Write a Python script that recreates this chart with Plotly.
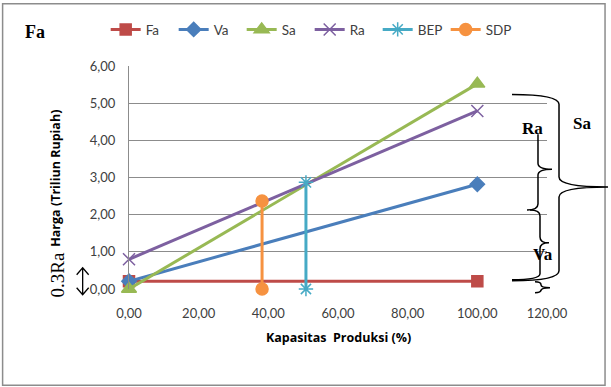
import plotly.graph_objects as go

# ---- data ----
fa_x = [0, 100]
fa_y = [0.21, 0.21]
va_x = [0, 100]
va_y = [0.21, 2.82]
sa_x = [0, 100]
sa_y = [0.0, 5.52]
ra_x = [0, 100]
ra_y = [0.80, 4.79]
bep_x = [50.8, 50.8]
bep_y = [0.0, 2.87]
sdp_x = [38.2, 38.2]
sdp_y = [0.0, 2.37]

x_ticks = [0, 20, 40, 60, 80, 100, 120]
y_ticks = [0, 1, 2, 3, 4, 5, 6]

W, H = 611, 387
L, R, T, B = 129.3, 547.0, 65.5, 289.3


def px(x):
    return (x - L) / (R - L)


def py(y):
    return (B - y) / (B - T)


fig = go.Figure()
series = [
    ("Fa", fa_x, fa_y, "#BE4B48", "square", 11),
    ("Va", va_x, va_y, "#4A7EBB", "diamond", 11),
    ("Sa", sa_x, sa_y, "#98B954", "triangle-up", 13),
    ("Ra", ra_x, ra_y, "#7D60A0", "x-thin-open", 12),
    ("BEP", bep_x, bep_y, "#46AAC5", "asterisk-open", 12),
    ("SDP", sdp_x, sdp_y, "#F69240", "circle", 12),
]
for name, xs, ys, col, sym, sz in series:
    fig.add_trace(go.Scatter(
        x=xs, y=ys, name=name, mode="lines+markers", cliponaxis=False,
        line=dict(color=col, width=3),
        marker=dict(symbol=sym, size=sz, color=col,
                    line=dict(color=col, width=1.5)),
    ))

shapes = []
# outer border
shapes.append(dict(type="rect", xref="paper", yref="paper",
                   x0=px(3), x1=px(605), y0=py(3), y1=py(386),
                   line=dict(color="#8C8C8C", width=1.5), layer="below"))


def brace(x0, y1, y2, ym, tipx, tail_top, tail_bot, r=8):
    p = []
    p.append(f"M {px(tail_top)},{py(y1)}")
    p.append(f"Q {px(x0)},{py(y1)} {px(x0)},{py(y1 + r)}")
    p.append(f"L {px(x0)},{py(ym - r)}")
    p.append(f"Q {px(x0)},{py(ym)} {px(tipx)},{py(ym)}")
    p.append(f"Q {px(x0)},{py(ym)} {px(x0)},{py(ym + r)}")
    p.append(f"L {px(x0)},{py(y2 - r)}")
    p.append(f"Q {px(x0)},{py(y2)} {px(tail_bot)},{py(y2)}")
    return dict(type="path", xref="paper", yref="paper", path=" ".join(p),
                line=dict(color="black", width=1.5))


shapes.append(brace(559, 94, 281, 187, 608, 512, 512, r=10))
shapes.append(brace(538, 134, 210, 169, 552, 538, 527, r=6))
shapes.append(brace(540, 210, 280, 243, 549, 530, 512, r=6))
shapes.append(brace(541, 282, 293, 288, 550, 535, 535, r=3))

# double arrow
arrow = (f"M {px(83)},{py(269)} L {px(83)},{py(294)} "
         f"M {px(77)},{py(275)} L {px(83)},{py(268)} L {px(89)},{py(275)} "
         f"M {px(77)},{py(288)} L {px(83)},{py(295)} L {px(89)},{py(288)}")
shapes.append(dict(type="path", xref="paper", yref="paper", path=arrow,
                   line=dict(color="black", width=1.3)))

serif = "Liberation Serif"
anns = [
    dict(text="<b>Fa</b>", x=px(35), y=py(31), font=dict(family=serif, size=18)),
    dict(text="<b>Ra</b>", x=px(533), y=py(128), font=dict(family=serif, size=17)),
    dict(text="<b>Sa</b>", x=px(582), y=py(123), font=dict(family=serif, size=17)),
    dict(text="<b>Va</b>", x=px(543), y=py(255), font=dict(family=serif, size=17)),
    dict(text="0.3Ra", x=px(58), y=py(275), textangle=-90,
         font=dict(family=serif, size=19)),
    dict(text="<b>Harga (Triliun Rupiah)</b>", x=px(55), y=py(178), textangle=-90,
         font=dict(family="Open Sans", size=12.5)),
    dict(text="<b>Kapasitas  Produksi (%)</b>", x=px(339), y=py(338),
         font=dict(family="Open Sans", size=12.5)),
]
for a in anns:
    a.update(xref="paper", yref="paper", showarrow=False,
             xanchor="center", yanchor="middle")
    a["font"]["color"] = "black"

fig.update_layout(
    width=W, height=H,
    margin=dict(l=L, r=W - R, t=T, b=H - B, pad=0),
    paper_bgcolor="white", plot_bgcolor="white",
    separators=",.",
    font=dict(family="Lato", size=13, color="#404040"),
    showlegend=True,
    legend=dict(orientation="h", x=px(106), y=py(29), xanchor="left",
                yanchor="middle", font=dict(family="Lato", size=13.5, color="#404040"),
                itemwidth=30, entrywidth=23, entrywidthmode="pixels",
                tracegroupgap=0, bgcolor="rgba(0,0,0,0)"),
    shapes=shapes,
    annotations=anns,
    xaxis=dict(range=[0, 120], tickvals=x_ticks, tickformat=".2f",
               showgrid=False, zeroline=False, showline=False,
               ticks="", ticklabelstandoff=15),
    yaxis=dict(range=[0, 6], tickvals=y_ticks, tickformat=".2f",
               showgrid=True, gridcolor="#8C8C8C", gridwidth=1,
               zeroline=False, showline=True, linecolor="#8C8C8C", linewidth=1,
               ticks="", ticklabelstandoff=10),
)

fig.write_html("out.html")
